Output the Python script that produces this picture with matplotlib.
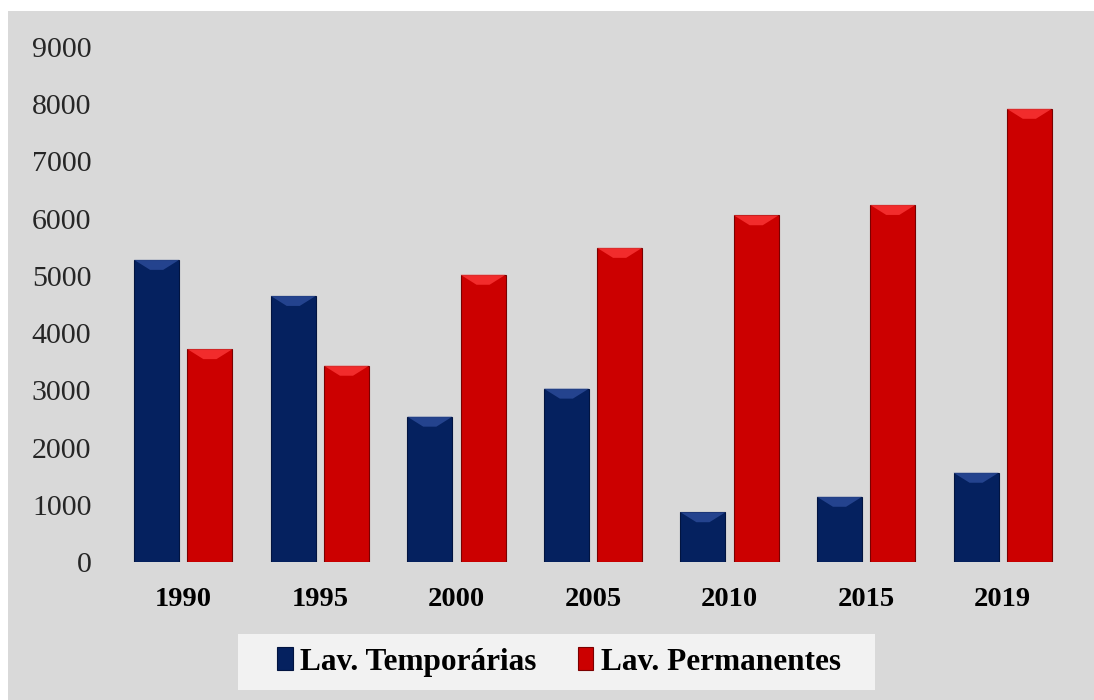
import matplotlib
matplotlib.use("Agg")
import matplotlib.pyplot as plt
from matplotlib.patches import Rectangle, Polygon
import numpy as np

years = ["1990", "1995", "2000", "2005", "2010", "2015", "2019"]
temporarias = [5280, 4650, 2540, 3030, 870, 1140, 1560]
permanentes = [3720, 3430, 5020, 5490, 6060, 6240, 7920]
series_names = ["Lav. Temporárias", "Lav. Permanentes"]
yticks = [0, 1000, 2000, 3000, 4000, 5000, 6000, 7000, 8000, 9000]

W, H = 1094, 700
fig = plt.figure(figsize=(W / 100, H / 100), dpi=100)
fig.patch.set_facecolor("white")
fig.add_artist(Rectangle((8 / W, 0), 1 - 8 / W, 1 - 11 / H, transform=fig.transFigure,
                         facecolor="#d9d9d9", edgecolor="none", zorder=-10))
# legend box
fig.add_artist(Rectangle((238 / W, 1 - 690 / H), (875 - 238) / W, 56 / H, transform=fig.transFigure,
                         facecolor="#f2f2f2", edgecolor="none", zorder=-5))

L, R, B, T = 115 / W, 1071 / W, 1 - 562 / H, 1 - 47 / H
ax = fig.add_axes([L, B, R - L, T - B])
ax.set_facecolor("none")
for s in ax.spines.values():
    s.set_visible(False)

x = np.arange(len(years))
bw = 0.33
off = 0.195
serif = ["Liberation Serif", "DejaVu Serif"]

colors = [("#05215f", "#2f4f9e", "#021440"), ("#cc0000", "#ff3b3b", "#7a0000")]
bars_all = []
for i, (vals, (body, top, edge)) in enumerate(zip([temporarias, permanentes], colors)):
    bars = ax.bar(x + (off if i else -off), vals, width=bw, color=body, edgecolor=edge,
                  linewidth=0.8, label=series_names[i], zorder=3)
    bars_all.append((bars, top))

ax.set_xlim(-0.5, len(years) - 0.5)
ax.set_ylim(0, 9000)

# bevel on top of bars (size in pixels converted to data units)
ax_w_px = (R - L) * W
ax_h_px = (T - B) * H
dx_px = (len(years)) / ax_w_px
dy_px = 9000 / ax_h_px
bev = 10
for bars, top in bars_all:
    for b in bars:
        x0, w, h = b.get_x(), b.get_width(), b.get_height()
        bh = min(bev * dy_px, h)
        inset = bev * dx_px * 1.6
        poly = Polygon([(x0, h), (x0 + w, h), (x0 + w - inset, h - bh), (x0 + inset, h - bh)],
                       closed=True, facecolor=top, edgecolor="none", zorder=4, alpha=0.75)
        ax.add_patch(poly)

ax.set_yticks(yticks)
ax.set_yticklabels([str(v) for v in yticks], fontfamily=serif, fontsize=21.5, color="#262626")
ax.set_xticks(x)
ax.set_xticklabels(years, fontfamily=serif, fontsize=20.5, fontweight="bold", color="black")
ax.tick_params(axis="y", length=0, pad=17)
ax.tick_params(axis="x", length=0, pad=18)

leg = fig.legend(loc="center", bbox_to_anchor=(559 / W, 1 - 662 / H), ncol=2,
                 prop={"family": serif, "size": 22.5, "weight": "bold"},
                 frameon=False,
                 handlelength=0.5, handleheight=0.75, handletextpad=0.25, columnspacing=1.3,
                 borderpad=0, borderaxespad=0)

fig.savefig("out.png", dpi=100, facecolor=fig.get_facecolor())
